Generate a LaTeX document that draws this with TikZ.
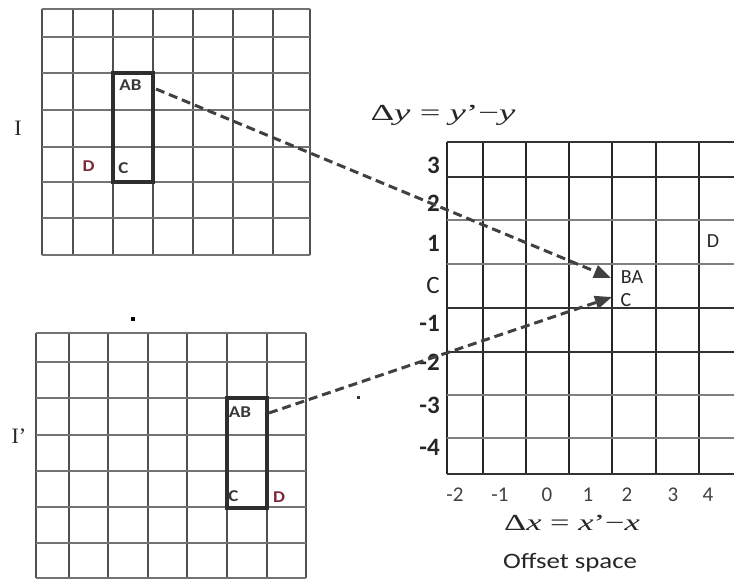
\documentclass[tikz,border=0pt]{standalone}
\usepackage{fontspec}
\setmainfont{Liberation Serif}
\newfontfamily\carlito{Carlito}
\usetikzlibrary{arrows.meta}
\newcommand{\wide}[2][1.15]{\scalebox{#1}[1]{#2}}
\definecolor{dred}{RGB}{125,40,55}
\definecolor{gline}{RGB}{80,80,80}
\definecolor{hline}{RGB}{115,115,115}
\tikzset{
  vgrid/.style={draw=gline,line width=1.2pt},
  hgrid/.style={draw=hline,line width=1.1pt},
  selbox/.style={draw=black!82,line width=3.4pt},
  cell/.style={font=\carlito\bfseries\fontsize{16.5}{18}\selectfont,text=black!78,inner sep=0pt},
  offlbl/.style={font=\carlito\fontsize{20}{22}\selectfont,text=black!85,inner sep=0pt},
  ylbl/.style={font=\carlito\bfseries\fontsize{25}{28}\selectfont,text=black!85,inner sep=0pt,anchor=east},
  xlbl/.style={font=\carlito\fontsize{21}{23}\selectfont,text=black!75,inner sep=0pt},
  imglbl/.style={font=\fontsize{22}{24}\selectfont,text=black!85,inner sep=0pt},
  eqlbl/.style={font=\fontsize{23}{26}\selectfont,text=black!85,inner sep=0pt},
  moveline/.style={draw=black!75,line width=3pt,dash pattern=on 9pt off 5pt,
    -{Triangle[length=17pt,width=13pt]}},
}
\begin{document}
\begin{tikzpicture}[x=1pt,y=-1pt]
\useasboundingbox (0,0) rectangle (734,581);
% ---- image I grid ----
\foreach \x in {42,73,113,153,193,233,273,310}
  \draw[vgrid] (\x,9) -- (\x,255);
\foreach \y in {9,37,73,110,147,182,218,255}
  \draw[hgrid] (42,\y) -- (310,\y);
\node[selbox,minimum width=40pt,minimum height=109pt,inner sep=0pt] (rI) at (133,127.5) {};
\node[cell] (abI) at (130.5,85) {\wide{AB}};
\node[cell] (cI) at (123.5,168) {\wide{C}};
\node[cell,text=dred] (dI) at (88.5,166) {\wide{D}};
\node[imglbl] (lI) at (18,128) {I};
% ---- image I' grid ----
\foreach \x in {36,69,108,148,187,227,267,306}
  \draw[vgrid] (\x,333) -- (\x,578);
\foreach \y in {333,362,398,435,471,507,543,578}
  \draw[hgrid] (36,\y) -- (306,\y);
\node[selbox,minimum width=40pt,minimum height=110pt,inner sep=0pt] (rJ) at (247,453) {};
\node[cell] (abJ) at (240,412) {\wide{AB}};
\node[cell] (cJ) at (233.5,496.5) {\wide{C}};
\node[cell,text=dred] (dJ) at (279,497) {\wide{D}};
\node[imglbl] (lJ) at (19,436) {I'};
% small dots
\node[fill=black,minimum size=4pt,inner sep=0pt] (dot1) at (133,319) {};
\node[fill=black!80,minimum size=3pt,inner sep=0pt] (dot2) at (358,397) {};
% ---- offset space grid ----
\foreach \x in {447,483,526,569,612,656,699}
  \draw[vgrid,draw=black!85] (\x,142) -- (\x,474);
\foreach \y in {142,177,308,352,474}
  \draw[hgrid,draw=black!80] (447,\y) -- (734,\y);
\foreach \y in {220,264,395,438}
  \draw[hgrid,draw=black!50] (447,\y) -- (734,\y);
% y labels
\node[ylbl] (y3) at (440,165) {3};
\node[ylbl] (y2) at (440,203) {2};
\node[ylbl] (y1) at (440,243) {1};
\node[ylbl,font=\carlito\fontsize{25}{28}\selectfont] (y0) at (440,285) {C};
\node[ylbl] (ym1) at (440,323) {-1};
\node[ylbl] (ym2) at (440,362) {-2};
\node[ylbl] (ym3) at (440,405) {-3};
\node[ylbl] (ym4) at (440,447) {-4};
% x labels
\node[xlbl] (xm2) at (455,495) {-2};
\node[xlbl] (xm1) at (500,495) {-1};
\node[xlbl] (x0) at (547,495) {0};
\node[xlbl] (x1) at (588,495) {1};
\node[xlbl] (x2) at (627,495) {2};
\node[xlbl] (x3) at (673,495) {3};
\node[xlbl] (x4) at (708,495) {4};
% equations
\node[eqlbl] (dy) at (443,115) {\wide[1.6]{Δ\textit{y} = \textit{y}'−\textit{y}}};
\node[eqlbl] (dx) at (572,523) {\wide[1.5]{Δ\textit{x} = \textit{x}'−\textit{x}}};
\node[font=\carlito\fontsize{22}{24}\selectfont,text=black!85,inner sep=0pt] (off) at (570,563) {\wide[1.22]{Offset space}};
% offset labels
\node[offlbl] (ba) at (632,277) {BA};
\node[offlbl] (co) at (626,300) {C};
\node[offlbl] (do) at (713,241) {D};
% arrows
\coordinate (s1) at (156,89);
\coordinate (e1) at (611,278);
\coordinate (s2) at (269,413);
\coordinate (e2) at (612,297);
\draw[moveline] (s1) -- (e1);
\draw[moveline] (s2) -- (e2);
\end{tikzpicture}
\end{document}
